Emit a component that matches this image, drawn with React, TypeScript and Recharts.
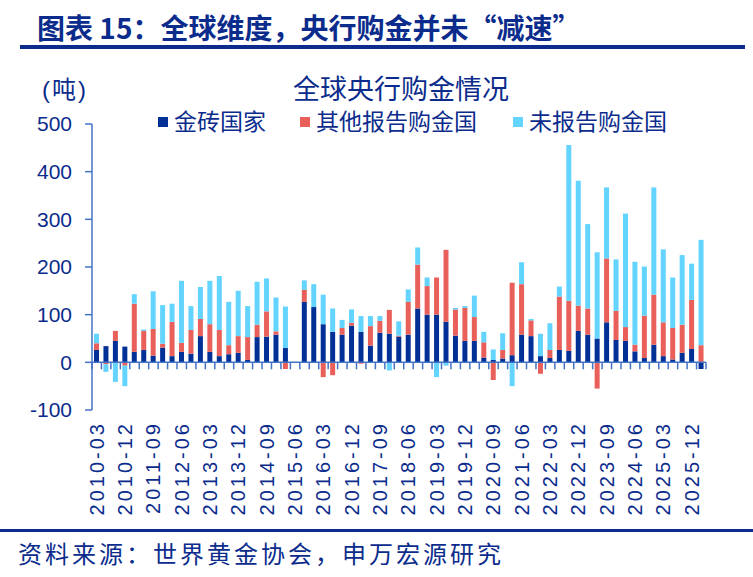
import { BarChart, Bar, XAxis, YAxis, ReferenceLine } from 'recharts'

// quarters shown on the category axis, 2010Q1 .. 2026Q1
const quarters = [
  '2010-03', '2010-06', '2010-09', '2010-12',
  '2011-03', '2011-06', '2011-09', '2011-12',
  '2012-03', '2012-06', '2012-09', '2012-12',
  '2013-03', '2013-06', '2013-09', '2013-12',
  '2014-03', '2014-06', '2014-09', '2014-12',
  '2015-03', '2015-06', '2015-09', '2015-12',
  '2016-03', '2016-06', '2016-09', '2016-12',
  '2017-03', '2017-06', '2017-09', '2017-12',
  '2018-03', '2018-06', '2018-09', '2018-12',
  '2019-03', '2019-06', '2019-09', '2019-12',
  '2020-03', '2020-06', '2020-09', '2020-12',
  '2021-03', '2021-06', '2021-09', '2021-12',
  '2022-03', '2022-06', '2022-09', '2022-12',
  '2023-03', '2023-06', '2023-09', '2023-12',
  '2024-03', '2024-06', '2024-09', '2024-12',
  '2025-03', '2025-06', '2025-09', '2025-12',
  '2026-03',
]

// only every third quarter gets a label
const tickLabels = [
  '2010-03', '2010-12', '2011-09', '2012-06', '2013-03', '2013-12', '2014-09', '2015-06',
  '2016-03', '2016-12', '2017-09', '2018-06', '2019-03', '2019-12', '2020-09', '2021-06',
  '2022-03', '2022-12', '2023-09', '2024-06', '2025-03', '2025-12',
]

// tonnes
const brics = [
  26, 34, 45, 33, 22, 26, 14, 31, 13, 22, 18, 55, 22, 13, 17, 20,
  5, 53, 54, 58, 30, 0, 127, 116, 80, 64, 58, 77, 64, 35, 62, 60,
  54, 58, 113, 100, 100, 85, 56, 45, 45, 10, 5, 8, 15, 58, 55, 13,
  9, 26, 24, 66, 58, 50, 84, 47, 45, 23, 9, 37, 13, 6, 20, 28,
  -14,
]

const otherReported = [
  14, -4, 21, -7, 101, 40, 56, 8, 72, 19, 50, 36, 58, 55, 19, 35,
  48, 26, 53, 7, -14, 0, 25, 0, -31, -27, 14, 6, -3, 41, 25, 50,
  2, 69, 92, 60, 78, 151, 55, 69, 50, 32, -37, 18, 152, 106, 33, -24,
  17, 112, 105, 53, 55, -55, 134, 61, 29, 14, 89, 105, 71, 66, 59, 103,
  36,
]

const unreported = [
  20, -16, -41, -43, 20, 3, 79, 81, 38, 130, 50, 67, 91, 113, 91, 95,
  65, 90, 69, 71, 87, 0, 20, 48, 62, 49, 17, 28, 33, 21, 10, -17,
  30, 26, 36, 18, -31, -7, 3, 4, 45, 22, 22, 35, -50, 46, 3, 47,
  56, 21, 327, 262, 177, 181, 149, 108, 238, 174, 103, 225, 153, 106, 146, 76,
  221,
]

const yTicks = [-100, 0, 100, 200, 300, 400, 500]

const NAVY = '#003096'
const RED = '#E9605A'
const CYAN = '#62D4FF'
const TEXT = '#0B2C8C'
const AXIS = '#4472C4'
const FONT = "'Liberation Sans', Arial, 'Noto Sans CJK SC', sans-serif"
const CJK = "'Noto Sans CJK SC', sans-serif"

const series = [
  { key: 'brics', name: '金砖国家', color: NAVY },
  { key: 'other', name: '其他报告购金国', color: RED },
  { key: 'unreported', name: '未报告购金国', color: CYAN },
]

const data = quarters.map((q, i) => ({
  q,
  brics: brics[i],
  other: otherReported[i],
  unreported: unreported[i],
}))

// plot box
const W = 753
const H = 577
const PLOT_LEFT = 92
const PLOT_RIGHT = 706
const PLOT_TOP = 124
const PLOT_BOTTOM = 410
const X_AXIS_H = 110
const Y_MIN = -100
const Y_MAX = 500
const BAND = (PLOT_RIGHT - PLOT_LEFT) / quarters.length
const ZERO_Y = PLOT_TOP + ((Y_MAX - 0) / (Y_MAX - Y_MIN)) * (PLOT_BOTTOM - PLOT_TOP)

const QuarterTick = (props: any) => {
  const { x, payload } = props
  const idx = quarters.indexOf(payload.value)
  const half = BAND / 2
  return (
    <g>
      <line x1={x - half} x2={x - half} y1={ZERO_Y} y2={ZERO_Y + 7} stroke={AXIS} strokeWidth={1.5} />
      {idx === quarters.length - 1 && (
        <line x1={x + half} x2={x + half} y1={ZERO_Y} y2={ZERO_Y + 7} stroke={AXIS} strokeWidth={1.5} />
      )}
      {tickLabels.includes(payload.value) && (
        <text
          transform={`translate(${x}, 421) rotate(-90)`}
          textAnchor="end"
          dominantBaseline="central"
          fontSize={20}
          letterSpacing={3}
          fill={TEXT}
          fontFamily={FONT}
        >
          {payload.value}
        </text>
      )}
    </g>
  )
}

export default function App() {
  return (
    <div
      style={{
        position: 'absolute',
        left: 0,
        top: 0,
        width: W,
        height: H,
        background: '#fff',
        overflow: 'hidden',
        fontFamily: FONT,
        color: TEXT,
      }}
    >
      <div style={{ position: 'absolute', left: 37, top: 9, fontSize: 28, fontWeight: 'bold', fontFamily: CJK, whiteSpace: 'nowrap', lineHeight: '36px' }}>
        图表 15：全球维度，央行购金并未“减速”
      </div>
      <div style={{ position: 'absolute', left: 20, top: 45, width: 725, height: 4, background: '#0B2C8C' }} />

      <div style={{ position: 'absolute', left: 0, top: 0 }}>
        <BarChart
          width={W}
          height={H}
          data={data}
          stackOffset="sign"
          margin={{ top: PLOT_TOP, right: W - PLOT_RIGHT, bottom: H - PLOT_BOTTOM - X_AXIS_H, left: 0 }}
        >
          <XAxis
            dataKey="q"
            interval={0}
            height={X_AXIS_H}
            axisLine={false}
            tickLine={false}
            tick={<QuarterTick />}
          />
          <YAxis
            width={PLOT_LEFT}
            domain={[Y_MIN, Y_MAX]}
            ticks={yTicks}
            allowDataOverflow
            axisLine={{ stroke: AXIS, strokeWidth: 1.5 }}
            tickLine={{ stroke: AXIS, strokeWidth: 1.5 }}
            tickSize={7}
            tickMargin={13}
            tick={{ fill: TEXT, fontSize: 21, fontFamily: FONT }}
          />
          <ReferenceLine y={0} stroke={AXIS} strokeWidth={1.5} />
          {series.map(s => (
            <Bar key={s.key} dataKey={s.key} name={s.name} stackId="a" fill={s.color} barSize={5} isAnimationActive={false} />
          ))}
        </BarChart>
      </div>

      <div style={{ position: 'absolute', left: 293, top: 73, fontSize: 27, whiteSpace: 'nowrap', lineHeight: '34px' }}>
        全球央行购金情况
      </div>
      <div style={{ position: 'absolute', left: 42, top: 75, fontSize: 24, letterSpacing: 2, whiteSpace: 'nowrap', lineHeight: '30px' }}>
        (吨)
      </div>

      {series.map((s, i) => (
        <div
          key={s.key}
          style={{
            position: 'absolute',
            left: [158, 300, 513][i],
            top: 107,
            display: 'flex',
            alignItems: 'center',
            fontSize: 23,
            lineHeight: '30px',
            whiteSpace: 'nowrap',
          }}
        >
          <span style={{ display: 'inline-block', width: 10, height: 10, background: s.color, marginRight: 6 }} />
          {s.name}
        </div>
      ))}

      <div style={{ position: 'absolute', left: 0, top: 529, width: W, height: 3, background: '#0B2C8C' }} />
      <div style={{ position: 'absolute', left: 18, top: 540, fontSize: 24, letterSpacing: 3, whiteSpace: 'nowrap', lineHeight: '30px' }}>
        资料来源：世界黄金协会，申万宏源研究
      </div>
    </div>
  )
}
